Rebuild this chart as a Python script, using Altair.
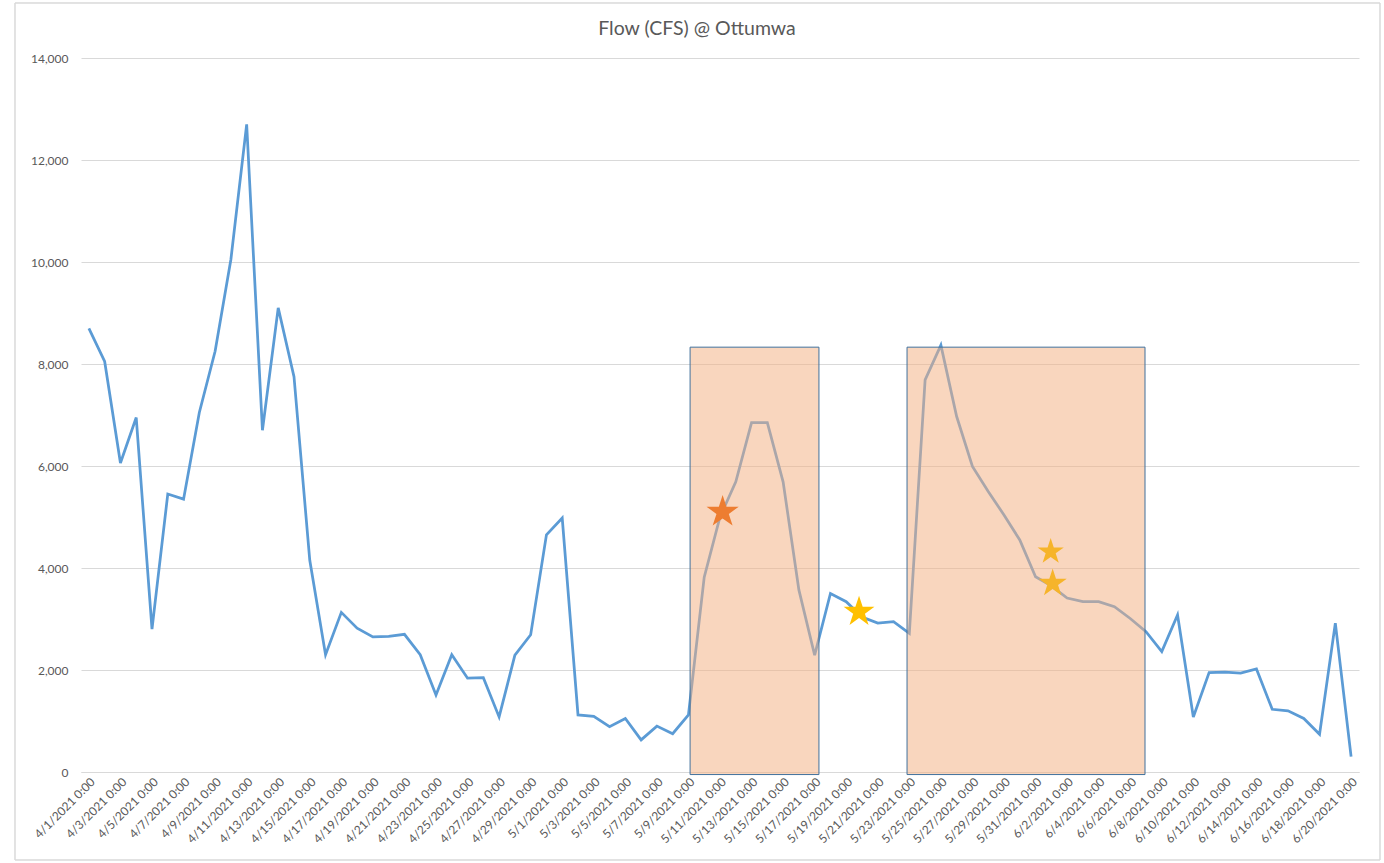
import altair as alt
import pandas as pd

# ---- data ----
start_date = "2021-04-01"
end_date = "2021-06-20"
flow_cfs = [
    # April 1-30
    8700, 8050, 6060, 6950, 2800, 5450, 5350, 7050, 8250, 10050,
    12700, 6700, 9100, 7750, 4150, 2300, 3130, 2820, 2650, 2660,
    2700, 2300, 1510, 2300, 1840, 1850, 1080, 2290, 2690, 4650,
    # May 1-31
    4980, 1120, 1090, 890, 1050, 630, 900, 750, 1120, 3820,
    5000, 5690, 6850, 6850, 5690, 3570, 2290, 3500, 3340, 3040,
    2920, 2950, 2720, 7690, 8370, 6970, 5990, 5500, 5040, 4550, 3830,
    # June 1-20
    3650, 3410, 3340, 3340, 3240, 3010, 2750, 2360, 3080, 1080,
    1950, 1960, 1940, 2020, 1230, 1200, 1050, 740, 2920, 300,
]

# highlighted periods (shaded boxes)
box_start = ["2021-05-09T02:30:00Z", "2021-05-22T20:30:00Z"]
box_end = ["2021-05-17T06:30:00Z", "2021-06-06T22:30:00Z"]
box_top = [8330, 8330]
box_bottom = [-50, -50]

# star markers
star_time = ["2021-05-11T04:00:00Z", "2021-05-19T19:30:00Z",
             "2021-05-31T23:00:00Z", "2021-06-01T02:00:00Z"]
star_value = [5100, 3140, 4320, 3700]
star_color = ["#ed7d31", "#ffc000", "#f6b42a", "#f6b42a"]
star_size = [1150, 1050, 760, 880]

y_ticks = [0, 2000, 4000, 6000, 8000, 10000, 12000, 14000]

# ---- tables ----
dates = pd.date_range(start_date, end_date, freq="D")
df = pd.DataFrame({
    "date": [d.strftime("%Y-%m-%dT00:00:00Z") for d in dates],
    "flow": flow_cfs,
})
boxes = pd.DataFrame({"start": box_start, "end": box_end,
                      "top": box_top, "bottom": box_bottom})
stars = pd.DataFrame({"t": star_time, "v": star_value,
                      "c": star_color, "s": star_size})


def ms(ts):
    return int(pd.Timestamp(ts).timestamp() * 1000)


tick_ms = [ms(pd.Timestamp(d, tz="UTC")) for d in dates[::2]]
x_domain = [ms(pd.Timestamp(start_date, tz="UTC") - pd.Timedelta(hours=12)),
            ms(pd.Timestamp(end_date, tz="UTC") + pd.Timedelta(hours=12))]

FONT = "Lato"
GRAY = "#595959"
STAR = ("M0,-1L0.2245,-0.309L0.9511,-0.309L0.3633,0.118L0.5878,0.809"
        "L0,0.382L-0.5878,0.809L-0.3633,0.118L-0.9511,-0.309L-0.2245,-0.309Z")

x_scale = alt.Scale(type="utc", domain=x_domain)
y_scale = alt.Scale(domain=[0, 14000])

x_axis = alt.Axis(
    orient="bottom",
    values=tick_ms,
    labelExpr="utcFormat(datum.value, '%-m/%-d/%Y 0:00')",
    labelAngle=-45, labelAlign="right", labelBaseline="top",
    labelFont=FONT, labelFontSize=12, labelColor=GRAY,
    labelPadding=4, labelOverlap=False,
    grid=False, ticks=False, domainColor="#d9d9d9", domainWidth=1,
    title=None,
)
y_axis = alt.Axis(
    orient="left",
    values=y_ticks, format=",d",
    labelFont=FONT, labelFontSize=12, labelColor=GRAY, labelPadding=13,
    grid=True, gridColor="#d9d9d9", gridWidth=1,
    domain=False, ticks=False, title=None,
)

W, H = 1278, 714

line = alt.Chart(df).mark_line(color="#5b9bd5", strokeWidth=2.75).encode(
    x=alt.X("date:T", scale=x_scale, axis=x_axis),
    y=alt.Y("flow:Q", scale=y_scale, axis=y_axis),
)

rects = alt.Chart(boxes).mark_rect(
    fill="#f4b183", fillOpacity=0.52, stroke="#41719c", strokeWidth=1
).encode(
    x=alt.X("start:T", scale=x_scale, axis=x_axis),
    x2="end",
    y=alt.Y("top:Q", scale=y_scale, axis=y_axis),
    y2="bottom",
)

star_marks = alt.Chart(stars).mark_point(
    shape=STAR, filled=True, opacity=1, strokeWidth=0
).encode(
    x=alt.X("t:T", scale=x_scale, axis=x_axis),
    y=alt.Y("v:Q", scale=y_scale, axis=y_axis),
    color=alt.Color("c:N", scale=None),
    size=alt.Size("s:Q", scale=None),
)

frame = alt.Chart(boxes).mark_rect(
    fill="transparent", stroke="#d9d9d9", strokeWidth=1
).encode(
    x=alt.value(-66), x2=alt.value(W + 21),
    y=alt.value(-55), y2=alt.value(H + 88),
)

chart = alt.layer(frame, line, rects, star_marks).properties(
    width=W, height=H,
    background="white",
    title=alt.TitleParams(
        "Flow (CFS) @ Ottumwa", font=FONT, fontSize=19.5, fontWeight="normal",
        color=GRAY, anchor="middle", offset=0, dx=-23, dy=37,
    ),
    autosize=alt.AutoSizeParams(type="none"),
    padding={"left": 81, "top": 58, "right": 25, "bottom": 91},
).configure_view(stroke=None)

chart.save("out.html", embed_options={"renderer": "svg", "actions": False})
